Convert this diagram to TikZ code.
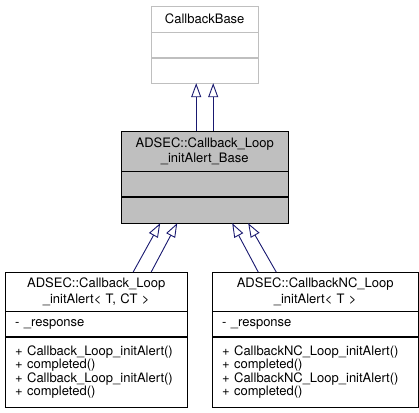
\documentclass[tikz,border=0pt]{standalone}
\usepackage{fontspec}
\setmainfont{TeX Gyre Heros}
\usepackage{xcolor}
\usetikzlibrary{arrows.meta, positioning}

\definecolor{edgegray}{HTML}{BFBFBF}
\definecolor{navy}{HTML}{191970}

\begin{document}
\begin{tikzpicture}[x=1pt, y=-1pt, font=\fontsize{13}{15.5}\selectfont]
		\tikzstyle{part} = [draw=black, rectangle, anchor=north west, inner xsep=10pt, inner ysep=0pt, align=left]
		\tikzstyle{title} = [part, align=center]
		\tikzstyle{faint} = [draw=edgegray]
		\tikzstyle{methods} = [font=\fontsize{13}{13.4}\selectfont]
		\tikzstyle{inherit} = [draw=navy, line width=0.9pt, -{Triangle[open, length=14pt, width=10pt]}]
		
		\useasboundingbox (0, 0) rectangle (419, 412);
		
		% base class
		\node[title, faint, text width=87pt, minimum height=26pt] at (151, 6) (base) {CallbackBase};
		\node[part, faint, text width=87pt, minimum height=25pt, below=0pt of base] (base-a) {};
		\node[part, faint, text width=87pt, minimum height=25pt, below=0pt of base-a] (base-m) {};
		
		% middle class
		\node[title, fill=edgegray, text width=147pt, minimum height=40pt] at (121, 131) (mid) {ADSEC::Callback\_Loop\\\_initAlert\_Base};
		\node[part, fill=edgegray, text width=147pt, minimum height=25pt, below=0pt of mid] (mid-a) {};
		\node[part, fill=edgegray, text width=147pt, minimum height=26pt, below=0pt of mid-a] (mid-m) {};
		
		% children
		\node[title, text width=162pt, minimum height=39pt] at (5, 272) (loop) {ADSEC::Callback\_Loop\\\_initAlert< T, CT >};
		\node[part, text width=162pt, minimum height=25pt, below=0pt of loop] (loop-a) {- \_response};
		\node[part, methods, text width=162pt, minimum height=70pt, below=0pt of loop-a] (loop-m) {+ Callback\_Loop\_initAlert()\\+ completed()\\+ Callback\_Loop\_initAlert()\\+ completed()};
		
		\node[title, text width=186pt, minimum height=39pt] at (212, 272) (nc) {ADSEC::CallbackNC\_Loop\\\_initAlert< T >};
		\node[part, text width=186pt, minimum height=25pt, below=0pt of nc] (nc-a) {- \_response};
		\node[part, methods, text width=186pt, minimum height=70pt, below=0pt of nc-a] (nc-m) {+ CallbackNC\_Loop\_initAlert()\\+ completed()\\+ CallbackNC\_Loop\_initAlert()\\+ completed()};
		
		\draw [inherit] ([xshift=-8.5pt]mid.north) -- ([xshift=-8.5pt]base-m.south);
		\draw [inherit] ([xshift=8.5pt]mid.north) -- ([xshift=8.5pt]base-m.south);
		\draw [inherit] ([xshift=37pt]loop.north) -- ([xshift=-44.5pt]mid-m.south);
		\draw [inherit] ([xshift=55pt]loop.north) -- ([xshift=-27.5pt]mid-m.south);
		\draw [inherit] ([xshift=-57pt]nc.north) -- ([xshift=27.5pt]mid-m.south);
		\draw [inherit] ([xshift=-39pt]nc.north) -- ([xshift=43.5pt]mid-m.south);
	\end{tikzpicture}
\end{document}
